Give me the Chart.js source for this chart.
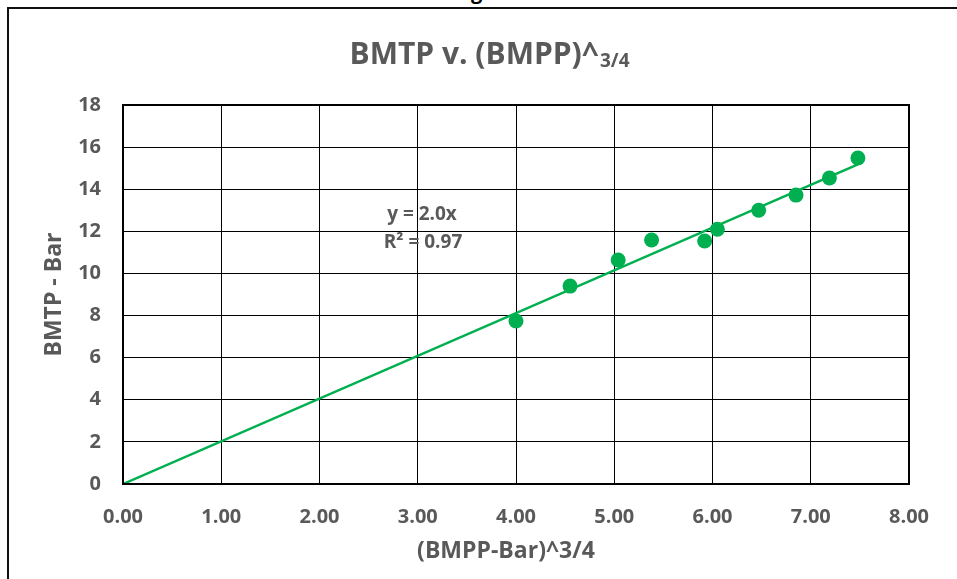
<!DOCTYPE html>
<html>
<head>
<meta charset="utf-8">
<script src="https://cdn.jsdelivr.net/npm/chart.js@4.4.1/dist/chart.umd.min.js"></script>
<style>
    html, body { margin: 0; padding: 0; background: #fff; overflow: hidden; }
    #wrap { position: relative; width: 957px; height: 579px; }
    #frame { position: absolute; left: 7px; top: 7px; width: 1000px; height: 700px;
             border-left: 2px solid #111; border-top: 2px solid #111; }
    #figLabel { position: absolute; left: 454px; top: -22px; line-height: 27px;
                font: bold 20px "Open Sans", sans-serif; color: #000; }
    canvas { position: absolute; left: 0; top: 0; }
</style>
</head>
<body>
<div id="wrap">
    <div id="figLabel">Fig 3</div>
    <div id="frame"></div>
    <canvas id="chart" width="957" height="579"></canvas>
</div>
<script>
// values
const xValues = [4.00, 4.55, 5.04, 5.38, 5.92, 6.05, 6.47, 6.85, 7.19, 7.48];
const yValues = [7.74, 9.40, 10.64, 11.59, 11.54, 12.10, 13.00, 13.72, 14.53, 15.48];
const trendX = [0, 7.48];
const trendY = [0, 15.18];
const xTicks = [0, 1, 2, 3, 4, 5, 6, 7, 8];
const yTicks = [0, 2, 4, 6, 8, 10, 12, 14, 16, 18];

const GREEN = '#00B050';
const GREY = '#595959';
const FONT = '"Open Sans", Lato, sans-serif';

const textPlugin = {
    id: 'texts',
    afterDraw(chart) {
        const ctx = chart.ctx;
        const area = chart.chartArea;
        ctx.save();
        ctx.fillStyle = GREY;

        // title with the small 3/4
        const main = 'BMTP v. (BMPP)^';
        const sub = '3/4';
        ctx.font = 'bold 30px ' + FONT;
        const wMain = ctx.measureText(main).width;
        ctx.font = 'bold 19px ' + FONT;
        const wSub = ctx.measureText(sub).width;
        let x0 = 489 - (wMain + wSub) / 2;
        ctx.textAlign = 'left';
        ctx.textBaseline = 'alphabetic';
        ctx.font = 'bold 30px ' + FONT;
        ctx.fillText(main, x0, 64);
        ctx.font = 'bold 19px ' + FONT;
        ctx.fillText(sub, x0 + wMain + 1, 67);

        // axis titles
        ctx.font = 'bold 23px ' + FONT;
        ctx.textAlign = 'center';
        ctx.textBaseline = 'middle';
        ctx.fillText('(BMPP-Bar)^3/4', 506, 551);
        ctx.save();
        ctx.translate(54, (area.top + area.bottom) / 2);
        ctx.rotate(-Math.PI / 2);
        ctx.fillText('BMTP - Bar', 0, 0);
        ctx.restore();

        // trendline equation
        ctx.font = 'bold 19px ' + FONT;
        ctx.textBaseline = 'alphabetic';
        ctx.fillText('y = 2.0x', 422, 220);
        ctx.fillText('R\u00B2 = 0.97', 423, 248);

        // plot border
        ctx.strokeStyle = '#000';
        ctx.lineWidth = 2;
        ctx.strokeRect(area.left, area.top, area.right - area.left, area.bottom - area.top);
        ctx.restore();
    }
};

new Chart(document.getElementById('chart'), {
    type: 'scatter',
    data: {
        datasets: [
            {
                label: 'Data',
                data: xValues.map((x, i) => ({ x: x, y: yValues[i] })),
                backgroundColor: GREEN,
                borderWidth: 0,
                pointRadius: 7.5,
                pointHoverRadius: 7.5
            },
            {
                label: 'Linear',
                data: trendX.map((x, i) => ({ x: x, y: trendY[i] })),
                showLine: true,
                borderColor: GREEN,
                borderWidth: 2.5,
                pointRadius: 0
            }
        ]
    },
    options: {
        responsive: false,
        animation: false,
        devicePixelRatio: 1,
        layout: { padding: { top: 105, right: 48, left: 0, bottom: 0 } },
        plugins: { legend: { display: false }, tooltip: { enabled: false } },
        scales: {
            x: {
                type: 'linear',
                min: 0, max: 8,
                afterFit(scale) { scale.height = 95; },
                afterBuildTicks(scale) { scale.ticks = xTicks.map(v => ({ value: v })); },
                grid: { color: '#000', lineWidth: 1, drawTicks: false },
                border: { display: false },
                ticks: {
                    color: GREY,
                    padding: 21,
                    font: { family: FONT, weight: 'bold', size: 20 },
                    callback: v => v.toFixed(2)
                }
            },
            y: {
                type: 'linear',
                min: 0, max: 18,
                afterFit(scale) { scale.width = 123; },
                afterBuildTicks(scale) { scale.ticks = yTicks.map(v => ({ value: v })); },
                grid: { color: '#000', lineWidth: 1, drawTicks: false },
                border: { display: false },
                ticks: {
                    color: GREY,
                    padding: 22,
                    font: { family: FONT, weight: 'bold', size: 20 }
                }
            }
        }
    },
    plugins: [textPlugin]
});
</script>
</body>
</html>
